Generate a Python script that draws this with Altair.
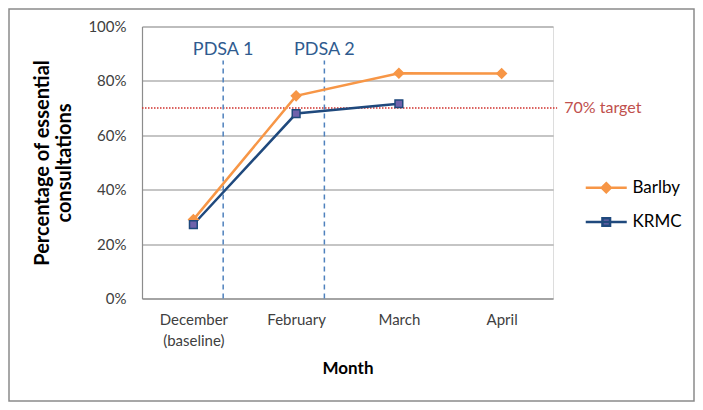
import altair as alt
import pandas as pd

months = ["December|(baseline)", "February", "March", "April"]
series = ["Barlby", "KRMC"]
barlby = [0.29, 0.745, 0.828, 0.827]
krmc = [0.272, 0.68, 0.716, None]

pdsa_labels = ["PDSA 1", "PDSA 2"]
pdsa_pos = [0.79, 1.775]
pdsa_top = 0.875
pdsa_text_y = 0.912

target_value = 0.70
target_label = "70% target"
target_end = 4.04
target_label_pos = 4.11

FONT = "Lato"
ORANGE = "#f79646"
NAVY = "#1f497d"
PURPLE = "#6f62ab"
BLUE = "#4f81bd"
RED = "#c0504d"
GRID = "#8c8c8c"

rows = []
for i, m in enumerate(months):
    for s, vals in zip(series, [barlby, krmc]):
        if vals[i] is not None:
            rows.append({"pos": i + 0.5, "series": s, "value": vals[i], "month": m})
df = pd.DataFrame(rows)

pdsa_df = pd.DataFrame({"pos": pdsa_pos, "label": pdsa_labels,
                        "y0": [0.0] * 2, "y1": [pdsa_top] * 2, "ty": [pdsa_text_y] * 2})
target_df = pd.DataFrame({"x0": [0.0], "x1": [target_end], "y": [target_value],
                          "lx": [target_label_pos], "label": [target_label]})

label_expr = " : ".join(
    [f"datum.value == {i + 0.5} ? split('{m}', '|')" for i, m in enumerate(months)]
) + " : ''"

x_scale = alt.Scale(domain=[0, 4], nice=False, zero=False)
y_scale = alt.Scale(domain=[0, 1], nice=False)

x_axis = alt.Axis(values=[i + 0.5 for i in range(len(months))], labelExpr=label_expr,
                  grid=False, ticks=False, domainColor=GRID, domainWidth=1.2,
                  labelFont=FONT, labelFontSize=15, labelColor="#404040",
                  labelLineHeight=21, labelPadding=14,
                  title="Month", titleFont=FONT, titleFontSize=17, titleFontWeight="bold",
                  titleColor="#000000", titleY=62, titleBaseline="top")
y_axis = alt.Axis(values=[0, 0.2, 0.4, 0.6, 0.8, 1.0], format=".0%", grid=True,
                  gridColor=GRID, gridWidth=1.2, ticks=False, domainColor=GRID, domainWidth=1.2,
                  labelFont=FONT, labelFontSize=15, labelColor="#404040", labelPadding=16,
                  title=["Percentage of essential", "consultations"], titleFont=FONT,
                  titleFontSize=20, titleFontWeight="bold", titleColor="#000000",
                  titleLineHeight=22, titlePadding=13)

base = alt.Chart(df)

lines = base.mark_line(strokeWidth=2.5).encode(
    x=alt.X("pos:Q", scale=x_scale, axis=x_axis),
    y=alt.Y("value:Q", scale=y_scale, axis=y_axis),
    color=alt.Color("series:N", scale=alt.Scale(domain=series, range=[ORANGE, NAVY]), legend=None),
)

points = base.mark_point(filled=True, strokeWidth=1.5, opacity=1).encode(
    x="pos:Q",
    y="value:Q",
    shape=alt.Shape("series:N", scale=alt.Scale(domain=series, range=["diamond", "square"]), legend=None),
    fill=alt.Fill("series:N", scale=alt.Scale(domain=series, range=[ORANGE, PURPLE]), legend=None),
    stroke=alt.Stroke("series:N", scale=alt.Scale(domain=series, range=[ORANGE, NAVY]), legend=None),
    size=alt.Size("series:N", scale=alt.Scale(domain=series, range=[90, 60]), legend=None),
)

leg = alt.Legend(title=None, orient="none", legendX=452.75, legendY=149.75, padding=0,
                 symbolSize=400, symbolStrokeWidth=2.5, labelFont=FONT, labelFontSize=17,
                 labelColor="#000000", labelOffset=14.75, rowPadding=13.2)
path_b = "M-2.05,0H2.05M0,-0.45L0.45,0L0,0.45L-0.45,0Z"
path_k = "M-2.05,0H2.05M-0.38,-0.38H0.38V0.38H-0.38Z"
legend_layer = base.transform_filter("false").mark_point(filled=True, opacity=1).encode(
    shape=alt.Shape("series:N", scale=alt.Scale(domain=series, range=[path_b, path_k]), legend=leg),
    fill=alt.Fill("series:N", scale=alt.Scale(domain=series, range=[ORANGE, PURPLE]), legend=leg),
    stroke=alt.Stroke("series:N", scale=alt.Scale(domain=series, range=[ORANGE, NAVY]), legend=leg),
)

pdsa_rules = alt.Chart(pdsa_df).mark_rule(color=BLUE, strokeWidth=1.5, strokeDash=[5, 4]).encode(
    x="pos:Q", y="y0:Q", y2="y1:Q")
pdsa_text = alt.Chart(pdsa_df).mark_text(font=FONT, fontSize=18, color="#2f5b8f",
                                         baseline="middle", align="center").encode(
    x="pos:Q", y="ty:Q", text="label:N")

target_rule = alt.Chart(target_df).mark_rule(color="#d0312d", strokeWidth=1.5, strokeDash=[1.5, 1.5]).encode(
    x="x0:Q", x2="x1:Q", y="y:Q")
target_text = alt.Chart(target_df).mark_text(font=FONT, fontSize=16, color=RED, align="left",
                                             baseline="middle").encode(
    x="lx:Q", y="y:Q", text="label:N")

border = alt.Chart(pd.DataFrame({"a": [0]})).mark_rect(
    fill=None, stroke="#8a8a8a", strokeWidth=1.5).encode(
    x=alt.value(-133), x2=alt.value(552), y=alt.value(-17.5), y2=alt.value(374.5))

chart = alt.layer(border, target_rule, pdsa_rules, lines, points, legend_layer, pdsa_text, target_text).resolve_scale(
    shape="independent", fill="independent", stroke="independent"
).properties(
    width=411, height=272,
    autosize=alt.AutoSizeParams(type="none"),
    padding={"left": 134, "top": 18.5, "right": 142, "bottom": 103.5},
).configure_view(stroke=None).configure(background="white")

chart.save("out.html", embed_options={"renderer": "svg", "actions": False})
